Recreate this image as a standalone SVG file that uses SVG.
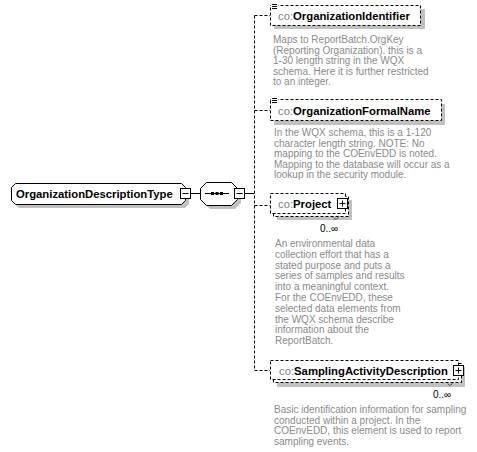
<svg xmlns="http://www.w3.org/2000/svg" width="477" height="452" viewBox="0 0 477 452">
<style>
.bg{fill:#ffffff}
.shadow{fill:#c0c0c0}
.solid{fill:#ffffff;stroke:#000000;stroke-width:1}
.dash{fill:#ffffff;stroke:#000000;stroke-width:1;stroke-dasharray:3,2}
.conn{fill:none;stroke:#000000;stroke-width:1}
.conn-d{fill:none;stroke:#000000;stroke-width:1;stroke-dasharray:3,2}
.name{font-family:"Liberation Sans",Arial,sans-serif;font-size:11.3px;font-weight:bold;fill:#000000}
.pre{font-weight:normal;fill:#808080}
.desc{font-family:"Liberation Sans",Arial,sans-serif;font-size:10px;fill:#8a8a8a}
.occ{font-family:"Liberation Sans",Arial,sans-serif;font-size:10px;fill:#000000}
.ic{stroke:#000000;stroke-width:1;fill:none}
</style>
<rect class="bg" x="0" y="0" width="477" height="452"/>

<g id="connectors">
  <line class="conn" x1="190" y1="193.5" x2="200" y2="193.5"/>
  <line class="conn" x1="244" y1="193.5" x2="254.5" y2="193.5"/>
  <line class="conn-d" x1="254.5" y1="15.5" x2="254.5" y2="370.5"/>
  <line class="conn-d" x1="254.5" y1="15.5" x2="270" y2="15.5"/>
  <line class="conn-d" x1="254.5" y1="110.5" x2="270" y2="110.5"/>
  <line class="conn-d" x1="254.5" y1="205.5" x2="270" y2="205.5"/>
  <line class="conn-d" x1="254.5" y1="370.5" x2="270" y2="370.5"/>
</g>

<g id="OrganizationDescriptionType">
  <path class="shadow" d="M19,187 H185 L189,191 V204 L185,208 H19 L15,204 V191 Z"/>
  <path class="solid" d="M15.5,183.5 H181.5 L185.5,187.5 V200.5 L181.5,204.5 H15.5 L11.5,200.5 V187.5 Z"/>
  <text class="name" x="16" y="197.5">OrganizationDescriptionType</text>
  <rect class="solid" x="180.5" y="188.5" width="10" height="10"/>
  <line class="ic" x1="182.5" y1="193.5" x2="188.5" y2="193.5"/>
</g>

<g id="sequence">
  <path class="shadow" d="M210,186 H235 L241,192 V203 L235,209 H210 L204,203 V192 Z"/>
  <path class="solid" d="M206.5,182.5 H231.5 L237.5,188.5 V199.5 L231.5,205.5 H206.5 L200.5,199.5 V188.5 Z"/>
  <line class="ic" x1="205" y1="193.5" x2="229" y2="193.5"/>
  <rect x="211" y="192" width="3" height="3" fill="#000000"/>
  <rect x="215.5" y="192" width="3" height="3" fill="#000000"/>
  <rect x="220" y="192" width="3" height="3" fill="#000000"/>
  <rect class="solid" x="234.5" y="188.5" width="10" height="10"/>
  <line class="ic" x1="236.5" y1="193.5" x2="242.5" y2="193.5"/>
</g>

<g id="OrganizationIdentifier">
  <rect class="shadow" x="274" y="9" width="151" height="20"/>
  <rect class="dash" x="270.5" y="5.5" width="150" height="20"/>
  <rect x="271" y="3" width="7" height="7" fill="#ffffff"/>
  <line class="ic" x1="272" y1="4.5" x2="277" y2="4.5"/>
  <line class="ic" x1="272" y1="6.5" x2="277" y2="6.5"/>
  <line class="ic" x1="272" y1="8.5" x2="277" y2="8.5"/>
  <text class="name" x="278" y="19.5"><tspan class="pre">co:</tspan>OrganizationIdentifier</text>
  <text class="desc" x="273"><tspan x="273" y="43">Maps to ReportBatch.OrgKey</tspan><tspan x="273" y="53.6">(Reporting Organization). this is a</tspan><tspan x="273" y="64.2">1-30 length string in the WQX</tspan><tspan x="273" y="74.8">schema. Here it is further restricted</tspan><tspan x="273" y="85.4">to an integer.</tspan></text>
</g>

<g id="OrganizationFormalName">
  <rect class="shadow" x="274" y="104" width="171" height="21"/>
  <rect class="dash" x="270.5" y="99.5" width="171" height="21"/>
  <rect x="271" y="97" width="7" height="7" fill="#ffffff"/>
  <line class="ic" x1="272" y1="98.5" x2="277" y2="98.5"/>
  <line class="ic" x1="272" y1="100.5" x2="277" y2="100.5"/>
  <line class="ic" x1="272" y1="102.5" x2="277" y2="102.5"/>
  <text class="name" x="278" y="114.5"><tspan class="pre">co:</tspan>OrganizationFormalName</text>
  <text class="desc"><tspan x="274" y="136">In the WQX schema, this is a 1-120</tspan><tspan x="274" y="146.6">character length string. NOTE: No</tspan><tspan x="274" y="157.2">mapping to the COEnvEDD is noted.</tspan><tspan x="274" y="167.8">Mapping to the database will occur as a</tspan><tspan x="274" y="178.4">lookup in the security module.</tspan></text>
</g>

<g id="Project">
  <rect class="shadow" x="277" y="200" width="75" height="20"/>
  <rect class="dash" x="273.5" y="196.5" width="75" height="20"/>
  <rect class="dash" x="270.5" y="193.5" width="75" height="20"/>
  <text class="name" x="278" y="207.5"><tspan class="pre">co:</tspan>Project</text>
  <rect class="solid" x="337.5" y="198.5" width="10" height="10"/>
  <line class="ic" x1="339.5" y1="203.5" x2="345.5" y2="203.5"/>
  <line class="ic" x1="342.5" y1="200.5" x2="342.5" y2="206.5"/>
  <polyline class="ic" points="333,216.5 336,220 339,216.5" stroke-dasharray="1,1"/>
  <text class="occ" x="320" y="231.5">0..∞</text>
  <text class="desc"><tspan x="275" y="247">An environmental data</tspan><tspan x="275" y="257.8">collection effort that has a</tspan><tspan x="275" y="268.6">stated purpose and puts a</tspan><tspan x="275" y="279.4">series of samples and results</tspan><tspan x="275" y="290.2">into a meaningful context.</tspan><tspan x="275" y="301">For the COEnvEDD, these</tspan><tspan x="275" y="311.8">selected data elements from</tspan><tspan x="275" y="322.6">the WQX schema describe</tspan><tspan x="275" y="333.4">information about the</tspan><tspan x="275" y="344.2">ReportBatch.</tspan></text>
</g>

<g id="SamplingActivityDescription">
  <rect class="shadow" x="277" y="367" width="188" height="20"/>
  <rect class="dash" x="273.5" y="363.5" width="188" height="19"/>
  <rect class="dash" x="270.5" y="360.5" width="188" height="19"/>
  <text class="name" x="279" y="374.5"><tspan class="pre">co:</tspan>SamplingActivityDescription</text>
  <rect class="solid" x="453.5" y="365.5" width="10" height="10"/>
  <line class="ic" x1="455.5" y1="370.5" x2="461.5" y2="370.5"/>
  <line class="ic" x1="458.5" y1="367.5" x2="458.5" y2="373.5"/>
  <polyline class="ic" points="447,382.5 450,386 453,382.5" stroke-dasharray="1,1"/>
  <text class="occ" x="433" y="397.5">0..∞</text>
  <text class="desc"><tspan x="274" y="413">Basic identification information for sampling</tspan><tspan x="274" y="423.6">conducted within a project. In the</tspan><tspan x="274" y="434.2">COEnvEDD, this element is used to report</tspan><tspan x="274" y="444.8">sampling events.</tspan></text>
</g>
</svg>
